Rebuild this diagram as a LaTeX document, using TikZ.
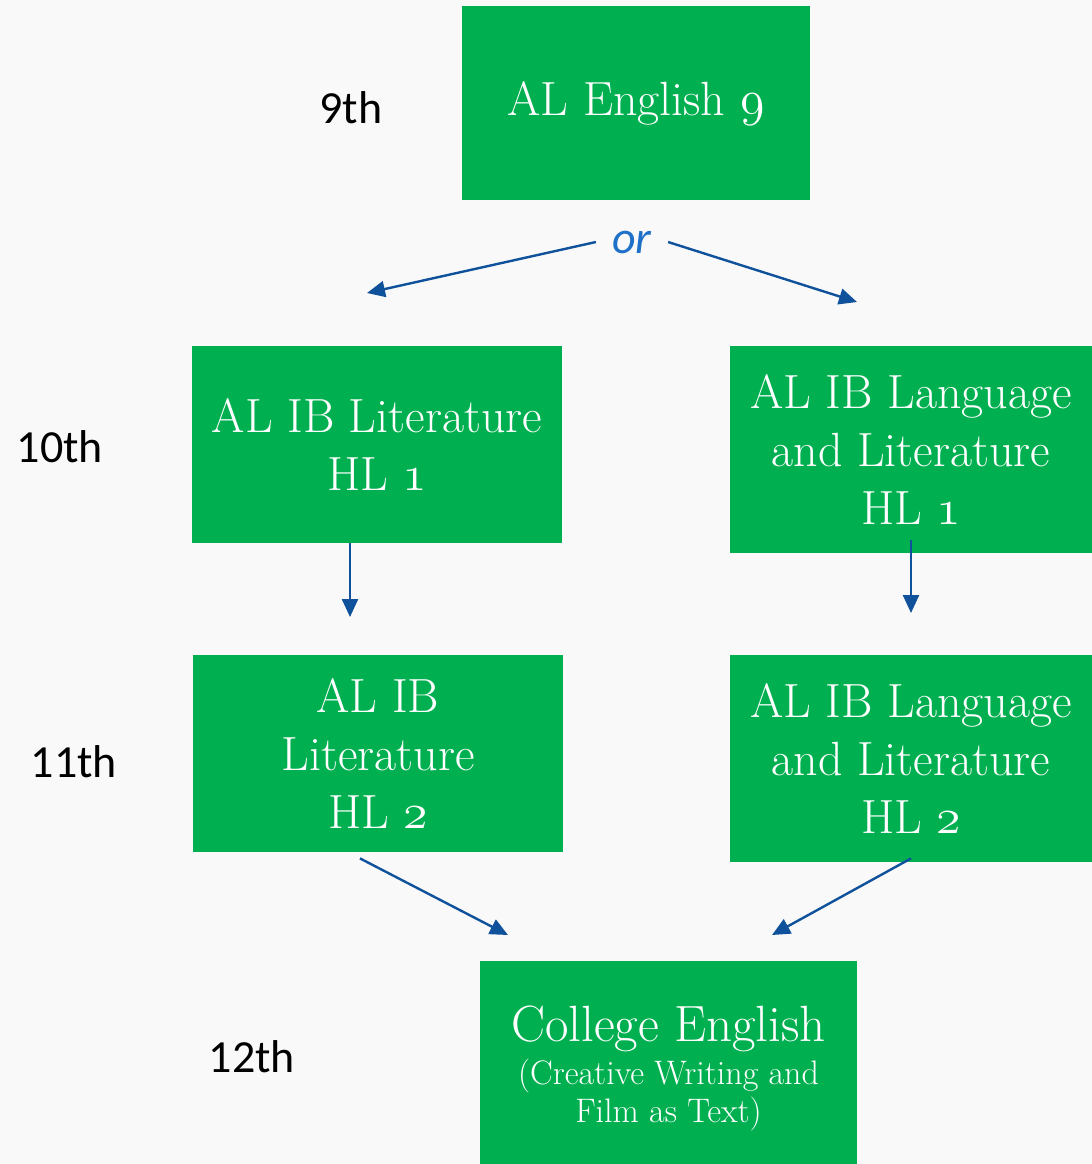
\documentclass[tikz,border=0pt]{standalone}
\usepackage{fontspec}
\usepackage{tikz}
\usetikzlibrary{arrows.meta,positioning,calc}
\newfontfamily\gradefont{Carlito}
\definecolor{boxgreen}{RGB}{0,176,80}
\definecolor{arrowblue}{RGB}{15,82,155}
\definecolor{orblue}{RGB}{30,112,200}
\definecolor{bggray}{RGB}{249,249,249}
\newcommand{\osnum}[1]{{\usefont{OML}{cmm}{m}{it}#1}}

\begin{document}
\begin{tikzpicture}[x=0.5pt, y=-0.5pt,
  course/.style={fill=boxgreen, text=white, align=center, inner sep=0pt, font=\fontsize{24}{29}\selectfont},
  grade/.style={font=\gradefont\fontsize{23}{28}\selectfont},
  arr/.style={draw=arrowblue, line width=1.2pt, -{Triangle[length=9pt,width=8pt]}}]
% Background
\fill[bggray] (0,0) rectangle (1092,1164);
\useasboundingbox (0,0) rectangle (1092,1164);

% Courses
\node[course, minimum width=174pt, minimum height=97pt] (eng9) at (636,103) {AL English \osnum{9}};
\node[course, minimum width=185pt, minimum height=98.5pt] (lit1) at (377,444.5) {AL IB Literature\\HL \osnum{1}};
\node[course, minimum width=181pt, minimum height=103.5pt] (lang1) at (911,449.5) {AL IB Language\\and Literature\\HL \osnum{1}};
\node[course, minimum width=185pt, minimum height=98.5pt] (lit2) at (378,753.5) {AL IB\\Literature\\HL \osnum{2}};
\node[course, minimum width=181pt, minimum height=103.5pt] (lang2) at (911,758.5) {AL IB Language\\and Literature\\HL \osnum{2}};
\node[course, minimum width=188.5pt, minimum height=101.5pt] (college) at (668.5,1062.5) {};
\node[text=white, align=center, inner sep=0pt, font=\fontsize{17}{19}\selectfont] (collegetext) at ([yshift=-3pt]college.center)
  {{\fontsize{25.5}{19}\selectfont College English}\\[2.5pt](Creative Writing and\\Film as Text)};

% Grades
\node[grade] (g9) at (351,108) {9th};
\node[grade] (g10) at (60,447) {10th};
\node[grade] (g11) at (74,762) {11th};
\node[grade] (g12) at (252,1057) {12th};

% Choice
\node[font=\gradefont\itshape\fontsize{23}{28}\selectfont, text=orblue, inner xsep=8pt, inner ysep=0pt] (or) at (632,242) {or};
\coordinate (orL) at (367,293);
\coordinate (orR) at (857,302);
\draw[arr] (or.west) -- (orL);
\draw[arr] (or.east) -- (orR);

% Progression
\coordinate (litdown) at (350,617);
\draw[arr] (lit1.south -| litdown) -- (litdown);
\coordinate (langdown) at (911,613);
\draw[arr] ([yshift=6.5pt]lang1.south) -- (langdown);
\coordinate (litend) at (508,935);
\draw[arr] ([xshift=-9pt,yshift=-3pt]lit2.south) -- (litend);
\coordinate (langend) at (772,935);
\draw[arr] ([yshift=2pt]lang2.south) -- (langend);
\end{tikzpicture}
\end{document}
